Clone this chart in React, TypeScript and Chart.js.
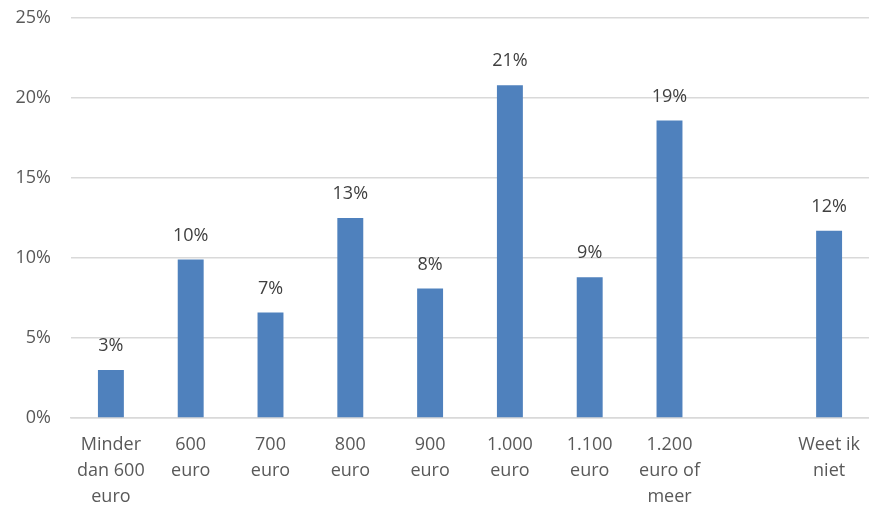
import React, { useEffect, useRef } from "react";
import { Chart, registerables } from "chart.js";

Chart.register(...registerables);

const categories: (string | string[])[] = [
  ["Minder", "dan 600", "euro"],
  ["600", "euro"],
  ["700", "euro"],
  ["800", "euro"],
  ["900", "euro"],
  ["1.000", "euro"],
  ["1.100", "euro"],
  ["1.200", "euro of", "meer"],
  "",
  ["Weet ik", "niet"],
];
const values: (number | null)[] = [3.0, 9.9, 6.6, 12.5, 8.1, 20.8, 8.8, 18.6, null, 11.7];
const valueLabels: string[] = ["3%", "10%", "7%", "13%", "8%", "21%", "9%", "19%", "", "12%"];
const yTicks: number[] = [0, 5, 10, 15, 20, 25];

const FONT = "'Open Sans', 'Liberation Sans', sans-serif";

const labelPlugin = {
  id: "valueLabels",
  afterDatasetsDraw(chart: any) {
    const ctx = chart.ctx;
    const meta = chart.getDatasetMeta(0);
    ctx.save();
    ctx.font = `18px ${FONT}`;
    ctx.fillStyle = "#404040";
    ctx.textAlign = "center";
    ctx.textBaseline = "middle";
    meta.data.forEach((bar: any, i: number) => {
      if (values[i] == null) return;
      ctx.fillText(valueLabels[i], bar.x, bar.y - 24);
    });
    ctx.restore();
  },
};

export default function App() {
  const ref = useRef<HTMLCanvasElement>(null);
  useEffect(() => {
    document.body.style.margin = "0";
    const chart = new Chart(ref.current!, {
      type: "bar",
      data: {
        labels: categories as any,
        datasets: [
          {
            data: values,
            backgroundColor: "#4F81BD",
            barPercentage: 0.325,
            categoryPercentage: 1,
          },
        ],
      },
      options: {
        animation: false,
        responsive: false,
        maintainAspectRatio: false,
        layout: { padding: { top: 18, right: 0, left: 0, bottom: 0 } },
        plugins: { legend: { display: false }, tooltip: { enabled: false } },
        scales: {
          x: {
            grid: { display: false },
            border: { color: "#D9D9D9", width: 1.5 },
            ticks: {
              color: "#595959",
              font: { family: FONT, size: 18, lineHeight: 1.45 },
              maxRotation: 0,
              autoSkip: false,
              padding: 6,
            },
            afterFit(scale: any) {
              scale.height = 95;
            },
          },
          y: {
            min: 0,
            max: 25,
            afterBuildTicks(scale: any) {
              scale.ticks = yTicks.map((v) => ({ value: v }));
            },
            grid: { color: "#D9D9D9", lineWidth: 1.5, drawTicks: false },
            border: { display: false },
            ticks: {
              color: "#595959",
              font: { family: FONT, size: 18 },
              padding: 20,
              callback: (v: any) => v + "%",
            },
            afterFit(scale: any) {
              scale.width = 71;
              scale.paddingTop = 0;
              scale.paddingBottom = 0;
            },
          },
        },
      },
      plugins: [labelPlugin],
    });
    return () => chart.destroy();
  }, []);
  return (
    <div style={{ width: 869, height: 513 }}>
      <canvas ref={ref} width={869} height={513} style={{ width: 869, height: 513 }} />
    </div>
  );
}
